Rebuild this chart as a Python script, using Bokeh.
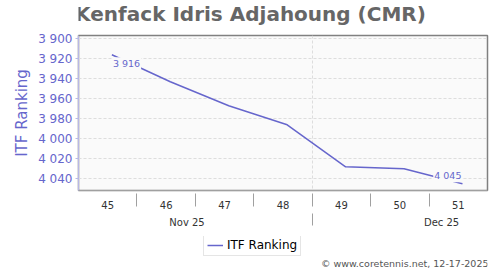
import pandas as pd
from bokeh.plotting import figure
from bokeh.layouts import column
from bokeh.models import (Range1d, LinearAxis, FixedTicker, CustomJSTickFormatter,
                          Label, Legend, LegendItem, ColumnDataSource, Grid)
from bokeh.embed import file_html
from bokeh.resources import INLINE

# ---- data ----
title_text = "Kenfack Idris Adjahoung (CMR)"
week_labels = ["45", "46", "47", "48", "49", "50", "51"]
week_starts = ["2025-11-03", "2025-11-10", "2025-11-17", "2025-11-24",
               "2025-12-01", "2025-12-08", "2025-12-15"]
range_end = "2025-12-22"
month_labels = ["Nov 25", "Dec 25"]
month_starts = ["2025-11-01", "2025-12-01", "2026-01-01"]
rank_dates = ["2025-11-07", "2025-11-14", "2025-11-21", "2025-11-28",
              "2025-12-05", "2025-12-12", "2025-12-19"]
ranks = [3916, 3943, 3967, 3986, 4028, 4030, 4045]
y_ticks = [3900, 3920, 3940, 3960, 3980, 4000, 4020, 4040]
series_name = "ITF Ranking"
credit = "\u00a9 www.coretennis.net, 12-17-2025"

FONT = "DejaVu Sans"
LINE = "#6666cc"


def ms(d):
    return pd.Timestamp(d).value // 10**6


DAY = 86400000
x_start = ms(week_starts[0])
x_end = ms(range_end)
week_centers = [ms(d) + 3.5 * DAY for d in week_starts]
week_bounds = [ms(d) for d in week_starts[1:]]
month_centers = [(ms(a) + ms(b)) / 2 for a, b in zip(month_starts[:-1], month_starts[1:])]
month_bounds = [ms(d) for d in month_starts if x_start < ms(d) < x_end]

src = ColumnDataSource(dict(x=[ms(d) for d in rank_dates], y=ranks))

FRAME_L = 78          # frame left edge in the page (column aligns frames)
HEAD_H = 28
MAIN_H = 208
FOOT_H = 270 - HEAD_H - MAIN_H


def blank(h):
    fig = figure(width=500, height=h, output_backend="svg", toolbar_location=None,
                 x_range=Range1d(0, 1), y_range=Range1d(0, 1),
                 x_axis_location=None, y_axis_location=None,
                 min_border_left=0, min_border_right=0, min_border_top=0, min_border_bottom=0)
    fig.outline_line_color = None
    fig.background_fill_color = "white"
    fig.border_fill_color = "white"
    fig.grid.visible = False
    return fig


# ---- header: title ----
h = blank(HEAD_H)
h.add_layout(Label(x=250 - FRAME_L, y=HEAD_H - 13, x_units="screen", y_units="screen",
                   text=title_text, text_align="center", text_baseline="middle",
                   text_font=FONT, text_font_size="20px", text_font_style="bold",
                   text_color="#666666"))

# ---- main chart ----
p = figure(width=500, height=MAIN_H, output_backend="svg", toolbar_location=None,
           x_range=Range1d(x_start, x_end), y_range=Range1d(4051.7, 3896.7),
           x_axis_location=None, y_axis_location=None,
           min_border_left=FRAME_L, min_border_right=13, min_border_top=35 - HEAD_H,
           min_border_bottom=(HEAD_H + MAIN_H) - 190)
p.background_fill_color = "#fafafa"
p.border_fill_color = "white"
p.outline_line_color = "#808080"
p.outline_line_width = 1.5
p.grid.visible = False

lookup_code = """
let b = 0;
for (let i = 0; i < pos.length; i++) {
  if (Math.abs(pos[i] - tick) < Math.abs(pos[b] - tick)) b = i;
}
return labs[b];
"""


def gap_axis(size):
    return LinearAxis(ticker=FixedTicker(ticks=[]), axis_line_color=None,
                      major_tick_out=size, major_tick_in=0, major_tick_line_color=None,
                      minor_tick_line_color=None, major_label_standoff=0)


p.add_layout(gap_axis(5), "left")

yaxis = LinearAxis(ticker=FixedTicker(ticks=y_ticks),
                   formatter=CustomJSTickFormatter(code="return tick.toFixed(0).replace(/\\B(?=(\\d{3})+(?!\\d))/g, ' ');"),
                   axis_label=series_name,
                   axis_line_color="#b8b8e6", major_tick_line_color="#b8b8e6",
                   major_tick_out=3, major_tick_in=0, minor_tick_line_color=None,
                   major_label_standoff=3,
                   major_label_text_font=FONT, major_label_text_font_size="12px",
                   major_label_text_color=LINE,
                   axis_label_text_font=FONT, axis_label_text_font_size="15px",
                   axis_label_text_font_style="normal", axis_label_text_color=LINE,
                   axis_label_standoff=4)
p.add_layout(yaxis, "left")

p.add_layout(gap_axis(5), "below")

week_axis = LinearAxis(ticker=FixedTicker(ticks=week_centers, minor_ticks=week_bounds),
                       formatter=CustomJSTickFormatter(args=dict(pos=week_centers, labs=week_labels), code=lookup_code),
                       axis_line_color="#a0a0a0", major_tick_line_color=None,
                       major_tick_out=0, major_tick_in=0,
                       minor_tick_line_color="#a0a0a0", minor_tick_in=-3, minor_tick_out=16,
                       major_label_standoff=-6,
                       major_label_text_font=FONT, major_label_text_font_size="10px",
                       major_label_text_color="#333333")
p.add_layout(week_axis, "below")

month_axis = LinearAxis(ticker=FixedTicker(ticks=month_centers, minor_ticks=month_bounds),
                        formatter=CustomJSTickFormatter(args=dict(pos=month_centers, labs=month_labels), code=lookup_code),
                        axis_line_color=None, major_tick_line_color=None,
                        major_tick_out=0, major_tick_in=0,
                        minor_tick_line_color="#a0a0a0", minor_tick_in=-2, minor_tick_out=14,
                        major_label_standoff=-9,
                        major_label_text_font=FONT, major_label_text_font_size="10px",
                        major_label_text_color="#333333")
p.add_layout(month_axis, "below")

p.add_layout(Grid(dimension=1, ticker=FixedTicker(ticks=y_ticks),
                  grid_line_color="#dddddd", grid_line_dash="3 2", grid_line_width=1))
p.add_layout(Grid(dimension=0, ticker=FixedTicker(ticks=month_bounds),
                  grid_line_color="#dddddd", grid_line_dash="3 2", grid_line_width=1))

r = p.line("x", "y", source=src, line_color=LINE, line_width=1.5)

p.add_layout(Label(x=src.data["x"][0], y=ranks[0], text=f"{ranks[0]:,}".replace(",", " "),
                   text_align="left", text_baseline="middle", y_offset=-9,
                   text_font=FONT, text_font_size="9.5px", text_color=LINE,
                   background_fill_color="#fafafa", padding=1))
p.add_layout(Label(x=src.data["x"][-1], y=ranks[-1], text=f"{ranks[-1]:,}".replace(",", " "),
                   text_align="right", text_baseline="middle", y_offset=8,
                   text_font=FONT, text_font_size="9.5px", text_color=LINE,
                   background_fill_color="#fafafa", padding=1))

# ---- footer: legend + credit ----
f = blank(FOOT_H)
sample = f.line(x="x", y="y", source=src, line_color=LINE, line_width=1.5)  # out of view; drives the legend swatch

legend = Legend(items=[LegendItem(label=series_name, renderers=[sample])],
                location=(203 - FRAME_L, FOOT_H - 20),
                border_line_color="#cccccc", background_fill_color="white", background_fill_alpha=1,
                padding=3, margin=0, glyph_width=16, glyph_height=14, label_height=14,
                label_standoff=4, label_text_font=FONT, label_text_font_size="12px",
                label_text_color="#000000")
f.add_layout(legend)
f.add_layout(Label(x=488 - FRAME_L, y=FOOT_H - 27, x_units="screen", y_units="screen", text=credit,
                   text_align="right", text_baseline="middle",
                   text_font=FONT, text_font_size="9.5px", text_color="#555555"))

open("out.html", "w").write(file_html(column(h, p, f, spacing=0), INLINE))
